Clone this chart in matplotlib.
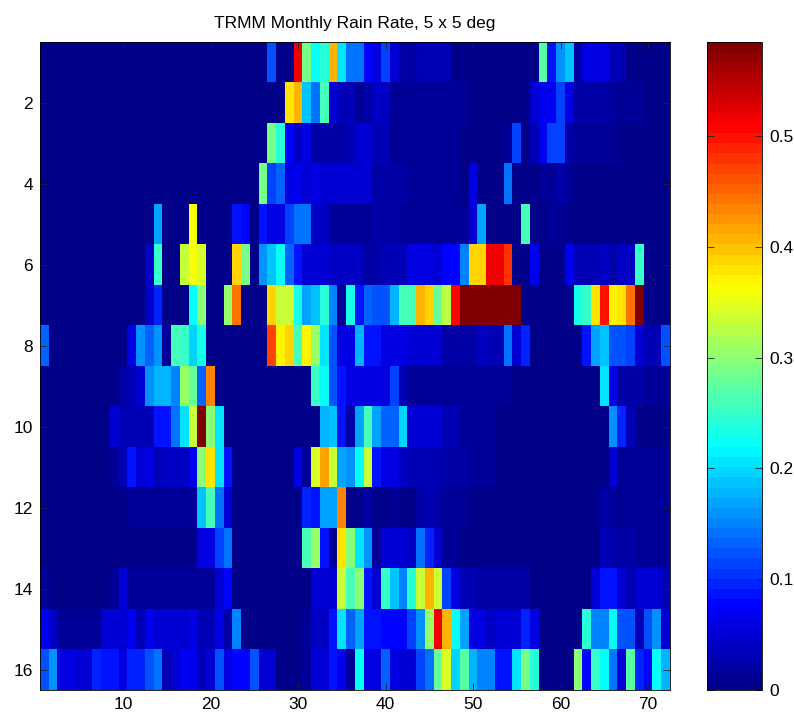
import numpy as np
import matplotlib
matplotlib.use('Agg')
import matplotlib.pyplot as plt
from matplotlib.colors import LinearSegmentedColormap

plt.rcParams['font.family'] = ['Liberation Sans', 'DejaVu Sans']

# rain rate per row, 72 columns (12 per line)
row01 = [0,0,0,0,0,0,0,0,0,0,0,0,
         0,0,0,0,0,0,0,0,0,0,0,0,
         0,0,.12,0,0,.52,.29,.22,.24,.41,.21,.14,
         .14,.08,.06,.11,.05,.02,.02,.03,.03,.03,.03,0,
         0,0,0,0,0,0,0,0,0,.27,.09,.16,
         .19,.02,.06,.06,.06,.03,.03,0,0,0,0,0]
row02 = [0,0,0,0,0,0,0,0,0,0,0,0,
         0,0,0,0,0,0,0,0,0,0,0,0,
         0,0,0,0,.38,.41,.19,.14,.26,.05,.03,.03,
         .015,.02,.04,.04,.01,.01,.01,.015,.015,.015,.01,.01,
         .01,.005,0,0,0,0,0,0,.05,.07,.07,.11,
         .06,.025,.025,.025,.025,.015,.015,.01,.01,.005,0,0]
row03 = [0,0,0,0,0,0,0,0,0,0,0,0,
         0,0,0,0,0,0,0,0,0,0,0,0,
         0,0,.29,.24,.08,.04,.06,.025,.025,.025,.025,.03,
         .05,.05,.03,.03,.015,.01,.01,.01,.01,.01,.01,.01,
         .005,.005,.005,.005,.005,.015,.11,0,.03,.07,.11,.11,
         .02,.01,.01,.01,.01,.01,.005,.005,0,0,0,0]
row04 = [0,0,0,0,0,0,0,0,0,0,0,0,
         0,0,0,0,0,0,0,0,0,0,0,0,
         0,.29,.11,.13,.06,.07,.05,.06,.05,.05,.05,.05,
         .05,.05,.02,.02,.02,.02,.01,.01,.01,.01,.01,.01,
         .005,.06,0,0,0,.14,0,0,0,.01,.01,.02,
         .01,.005,0,0,0,0,0,0,0,0,0,0]
row05 = [0,0,0,0,0,0,0,0,0,0,0,0,
         0,.17,0,0,0,.365,0,0,0,0,.09,.08,
         0,.09,.06,.06,.11,.14,.14,.04,.04,.015,.015,.015,
         .015,.015,.02,.02,.02,.01,.015,.015,.015,.015,.01,.01,
         .01,.05,.17,0,0,0,0,.26,0,0,.015,.015,
         0,0,0,0,0,0,0,0,0,0,0,0]
row06 = [0,0,0,0,0,0,0,0,0,0,0,0,
         .04,.25,0,0,.33,.36,.34,0,0,0,.39,.29,
         0,.16,.19,.22,.13,.09,.05,.05,.05,.04,.04,.04,
         .04,.02,.02,.03,.03,.03,.06,.06,.06,.05,.08,.08,
         .15,.39,.39,.52,.52,.48,0,0,.07,0,0,0,
         .07,.03,.03,.03,.04,.02,.04,.04,.25,0,0,0]
row07 = [0,0,0,0,0,0,0,0,0,0,0,0,
         .04,.10,0,0,0,.22,.30,0,0,.31,.44,0,
         0,0,.39,.33,.33,.23,.17,.19,.24,.15,.01,.23,
         .09,.13,.12,.12,.18,.26,.26,.41,.39,.28,.32,.51,
         .585,.585,.585,.585,.585,.585,.585,0,0,0,0,0,
         0,.23,.25,.38,.50,.37,.38,.44,.585,0,0,0]
row08 = [.13,0,0,0,0,0,0,0,0,0,.06,.16,
         .13,.16,.01,.26,.25,.20,.23,0,0,0,0,0,
         0,0,.47,.37,.39,.26,.37,.31,.21,.12,.06,.06,
         .18,.09,.09,.06,.06,.06,.05,.05,.05,.05,.02,.02,
         .02,.02,.04,.03,.03,.14,.05,.10,0,0,0,0,
         0,0,.09,.17,.19,.12,.12,.11,.05,.03,.03,.12]
row09 = [0,0,0,0,0,0,0,0,0,.02,.03,.05,
         .16,.18,.18,.15,.31,.28,.13,.43,0,0,0,0,
         0,0,0,0,0,0,0,.25,.22,.12,.09,.06,
         .06,.06,.06,.06,.11,.03,.015,.015,.015,.01,.01,.01,
         .01,.01,.01,.01,.01,.01,.005,.005,0,0,0,0,
         0,0,0,0,.21,.06,.02,.02,.02,.01,.01,.01]
row10 = [0,0,0,0,0,0,0,0,.05,.03,.03,.03,
         .03,.09,.09,.14,.21,.33,.585,.30,.21,0,0,0,
         0,0,0,0,0,0,0,0,.18,.19,.09,.02,
         .17,.26,.17,.13,.13,.20,.05,.05,.05,.05,.03,.03,
         .01,.01,.01,.01,.005,.005,.005,.005,0,0,0,0,
         0,0,0,0,0,.16,.10,.03,0,0,0,0]
row11 = [0,0,0,0,0,0,0,0,.015,.03,.09,.05,
         .06,.03,.04,.04,.04,.07,.30,.38,.21,.09,0,0,
         0,0,0,0,0,.06,.01,.34,.42,.33,.17,.16,
         .22,.33,.09,.06,.06,.04,.03,.03,.03,.03,.02,.02,
         .02,.01,.01,.01,.005,.005,.005,.005,0,0,0,0,
         0,0,0,0,0,.05,.015,.015,.015,.01,.01,.01]
row12 = [0,0,0,0,0,0,0,0,0,0,.015,.015,
         .015,.015,.015,.015,.01,.01,.19,.26,.14,.05,0,0,
         0,0,0,0,0,0,.10,.09,.17,.17,.43,0,
         0,.02,.005,.005,.01,.005,.005,.02,.03,.02,.01,.01,
         .01,.005,0,0,0,0,0,0,0,0,0,0,
         0,0,0,0,.02,.01,.01,.01,.01,.01,.01,.01]
row13 = [0,0,0,0,0,0,0,0,.005,.005,.005,.005,
         .005,.005,.005,.005,.005,.005,.06,.06,.11,.14,0,0,
         0,0,0,0,0,0,.26,.31,.09,.01,.38,.30,
         .21,.16,.01,.05,.05,.05,.04,.14,.10,.05,.01,.01,
         .005,.005,.005,.005,0,0,0,0,0,0,0,0,
         0,0,0,0,.03,.02,.02,.02,.015,.015,.015,.015]
row14 = [.015,0,0,0,0,0,0,0,.015,.05,.015,.015,
         .015,.015,.015,.015,.015,.015,.015,.015,.05,.08,0,0,
         0,0,0,0,0,0,0,.05,.05,.05,.33,.26,
         .30,.09,.05,.25,.19,.15,.24,.33,.41,.33,.11,.06,
         .03,.03,.02,.02,.02,.02,.02,.02,0,0,0,0,
         0,0,0,.05,.09,.09,.05,.03,.05,.05,.05,.03]
row15 = [.07,.04,.01,.01,.01,.01,.01,.05,.05,.05,.07,.03,
         .07,.05,.05,.05,.05,.06,.03,.03,.06,.02,.15,0,
         0,0,0,0,0,0,.01,.04,.04,.09,.21,.13,
         .17,.09,.09,.08,.08,.08,.11,.16,.31,.52,.41,.22,
         .17,.06,.06,.04,.05,.05,.05,.10,.06,0,0,0,
         0,0,.24,.15,.15,.22,.12,.12,.03,.12,.16,.05]
row16 = [.12,.16,.06,.06,.05,.05,.10,.09,.09,.06,.10,.10,
         .12,.14,.03,.05,.07,.07,.03,.05,.12,.06,.08,.08,
         .12,.05,.05,0,0,0,.01,.05,.05,.09,.07,.01,
         .22,.06,.06,.13,.06,.05,.05,.11,.14,.28,.34,.20,
         .27,.18,.15,.15,.09,.09,.21,.29,.24,0,0,0,
         0,.30,.08,.25,.22,.14,.05,.27,.10,.08,.22,.18]

xticks = [10, 20, 30, 40, 50, 60, 70]
yticks = [2, 4, 6, 8, 10, 12, 14, 16]
cticks = [0, 0.1, 0.2, 0.3, 0.4, 0.5]
ctick_labels = ['0', '0.1', '0.2', '0.3', '0.4', '0.5']
vmax = 0.585

rain = np.array([row01, row02, row03, row04, row05, row06, row07, row08,
                 row09, row10, row11, row12, row13, row14, row15, row16])

# old matlab jet, blue/cyan/yellow/red sit at 1/8, 3/8, 5/8, 7/8
matlab_jet = LinearSegmentedColormap.from_list('matlab_jet', [
    (0, (0, 0, 0.54)), (1 / 8, (0, 0, 1)), (3 / 8, (0, 1, 1)),
    (5 / 8, (1, 1, 0)), (7 / 8, (1, 0, 0)), (1, (0.5, 0, 0))], N=64)

W, H = 794, 715
fig = plt.figure(figsize=(W / 100, H / 100), dpi=100)
ax = fig.add_axes([40 / W, 1 - 690 / H, 630 / W, 648 / H])
im = ax.imshow(rain, cmap=matlab_jet, vmin=0, vmax=vmax,
               aspect='auto', interpolation='nearest',
               extent=[0.5, 72.5, 16.5, 0.5])
ax.set_xticks(xticks)
ax.set_yticks(yticks)
ax.tick_params(direction='in', length=5, width=0.6, top=True, right=True,
               labelsize=12.5, pad=5, color='#222222')
for s in ax.spines.values():
    s.set_linewidth(0.6)
ax.set_title('TRMM Monthly Rain Rate, 5 x 5 deg', fontsize=12.5, pad=10)

cax = fig.add_axes([707 / W, 1 - 690 / H, 55 / W, 648 / H])
cb = fig.colorbar(im, cax=cax)
cb.set_ticks(cticks)
cb.set_ticklabels(ctick_labels)
cax.tick_params(direction='in', length=5, width=0.6, left=True, right=True,
                labelsize=12.5, pad=5, color='#222222')
cb.outline.set_linewidth(0.6)

fig.savefig('out.png', dpi=100)
